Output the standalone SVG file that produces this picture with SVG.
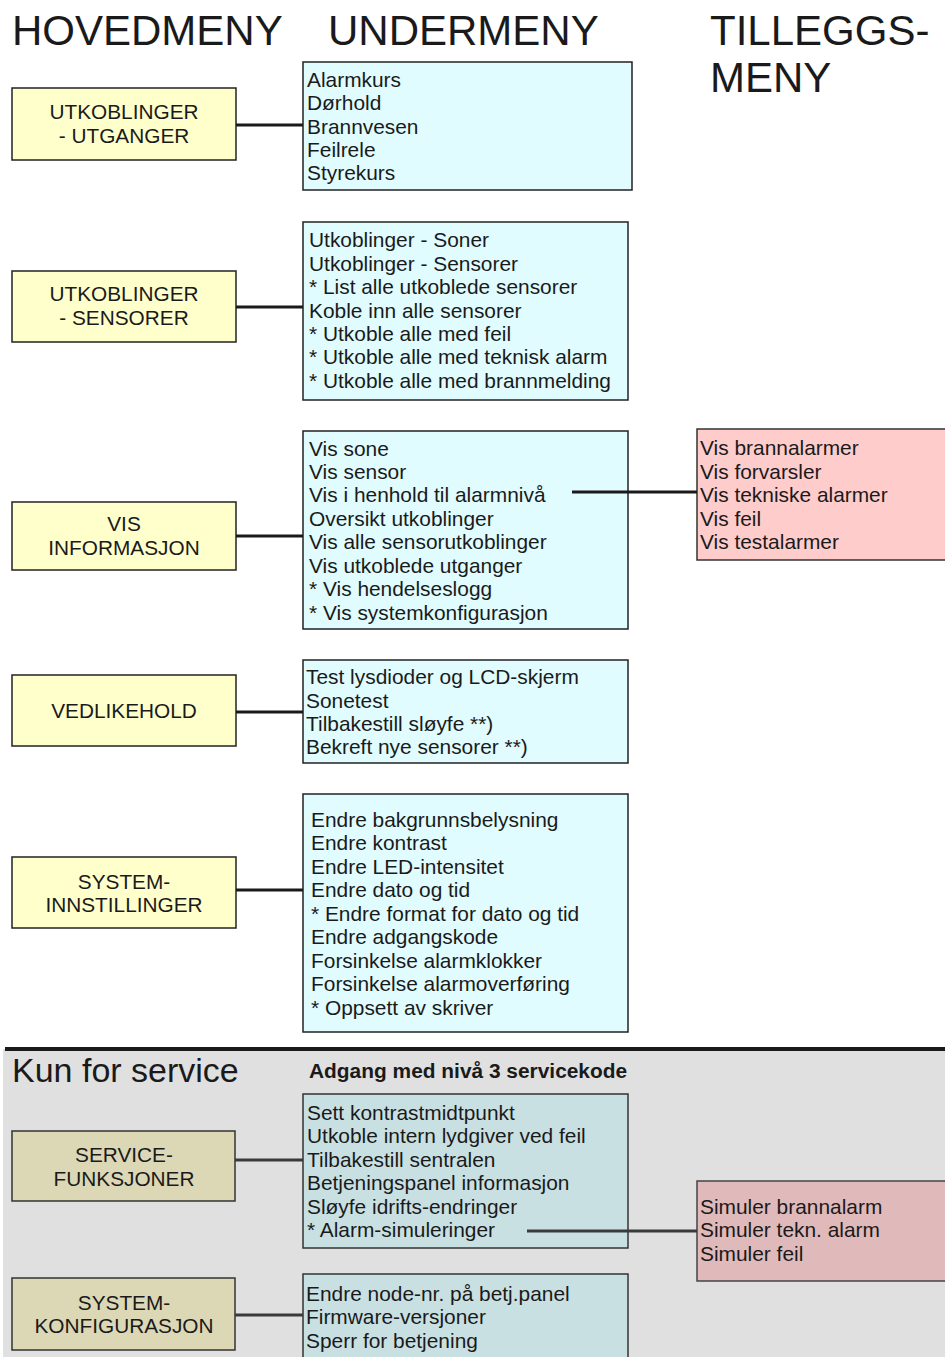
<svg xmlns="http://www.w3.org/2000/svg" width="945" height="1357" viewBox="0 0 945 1357">
<style>
text{font-family:"Liberation Sans",Arial,sans-serif;fill:#1a1a1a}
.h{font-size:42px}
.lbl{font-size:20.8px;text-anchor:middle}
.it{font-size:20.9px}
.main{fill:#ffffcc;stroke:#222;stroke-width:1.5}
.sub{fill:#e0fcff;stroke:#222;stroke-width:1.5}
.add{fill:#ffcccc;stroke:#333;stroke-width:1.5}
.smain{fill:#dcd8b6;stroke:#333;stroke-width:1.5}
.ssub{fill:#c9e0e3;stroke:#333;stroke-width:1.5}
.sadd{fill:#e0b9bb;stroke:#444;stroke-width:1.5}
.c{stroke:#1a1a1a;stroke-width:3;fill:none}
.sc{stroke:#3a3a3a;stroke-width:3;fill:none}
</style>
<rect x="0" y="0" width="945" height="1357" fill="#ffffff"/>
<rect x="3" y="1049" width="942" height="308" fill="#e0e0e0"/>
<line x1="5" y1="1049" x2="945" y2="1049" stroke="#1a1a1a" stroke-width="4"/>

<text class="h" x="12" y="45">HOVEDMENY</text>
<text class="h" x="328" y="45">UNDERMENY</text>
<text class="h" x="710" y="45">TILLEGGS-</text>
<text class="h" x="710" y="92">MENY</text>
<text x="12" y="1082" style="font-size:34px">Kun for service</text>
<text x="309" y="1078" style="font-size:20.9px;font-weight:bold">Adgang med nivå 3 servicekode</text>

<g id="utkoblinger-utganger">
<rect class="main" x="12" y="88" width="224" height="72"/>
<text class="lbl" x="124" y="119">UTKOBLINGER</text>
<text class="lbl" x="124" y="143">- UTGANGER</text>
</g>
<g id="sub-utganger">
<rect class="sub" x="303" y="62" width="329" height="128"/>
<text class="it" x="307" y="87">Alarmkurs</text>
<text class="it" x="307" y="110">Dørhold</text>
<text class="it" x="307" y="134">Brannvesen</text>
<text class="it" x="307" y="157">Feilrele</text>
<text class="it" x="307" y="180">Styrekurs</text>
</g>

<g id="utkoblinger-sensorer">
<rect class="main" x="12" y="271" width="224" height="71"/>
<text class="lbl" x="124" y="301">UTKOBLINGER</text>
<text class="lbl" x="124" y="325">- SENSORER</text>
</g>
<g id="sub-sensorer">
<rect class="sub" x="303" y="222" width="325" height="178"/>
<text class="it" x="309" y="247">Utkoblinger - Soner</text>
<text class="it" x="309" y="271">Utkoblinger - Sensorer</text>
<text class="it" x="309" y="294">* List alle utkoblede sensorer</text>
<text class="it" x="309" y="318">Koble inn alle sensorer</text>
<text class="it" x="309" y="341">* Utkoble alle med feil</text>
<text class="it" x="309" y="364">* Utkoble alle med teknisk alarm</text>
<text class="it" x="309" y="388">* Utkoble alle med brannmelding</text>
</g>

<g id="vis-informasjon">
<rect class="main" x="12" y="502" width="224" height="68"/>
<text class="lbl" x="124" y="531">VIS</text>
<text class="lbl" x="124" y="555">INFORMASJON</text>
</g>
<g id="sub-vis">
<rect class="sub" x="303" y="431" width="325" height="198"/>
<text class="it" x="309" y="456">Vis sone</text>
<text class="it" x="309" y="479">Vis sensor</text>
<text class="it" x="309" y="502">Vis i henhold til alarmnivå</text>
<text class="it" x="309" y="526">Oversikt utkoblinger</text>
<text class="it" x="309" y="549">Vis alle sensorutkoblinger</text>
<text class="it" x="309" y="573">Vis utkoblede utganger</text>
<text class="it" x="309" y="596">* Vis hendelseslogg</text>
<text class="it" x="309" y="620">* Vis systemkonfigurasjon</text>
</g>
<g id="add-alarmniva">
<rect class="add" x="697" y="429" width="250" height="131"/>
<text class="it" x="700" y="455">Vis brannalarmer</text>
<text class="it" x="700" y="479">Vis forvarsler</text>
<text class="it" x="700" y="502">Vis tekniske alarmer</text>
<text class="it" x="700" y="526">Vis feil</text>
<text class="it" x="700" y="549">Vis testalarmer</text>
</g>

<g id="vedlikehold">
<rect class="main" x="12" y="675" width="224" height="71"/>
<text class="lbl" x="124" y="718">VEDLIKEHOLD</text>
</g>
<g id="sub-vedlikehold">
<rect class="sub" x="303" y="660" width="325" height="103"/>
<text class="it" x="306" y="684">Test lysdioder og LCD-skjerm</text>
<text class="it" x="306" y="708">Sonetest</text>
<text class="it" x="306" y="731">Tilbakestill sløyfe **)</text>
<text class="it" x="306" y="754">Bekreft nye sensorer **)</text>
</g>

<g id="systeminnstillinger">
<rect class="main" x="12" y="857" width="224" height="71"/>
<text class="lbl" x="124" y="889">SYSTEM-</text>
<text class="lbl" x="124" y="912">INNSTILLINGER</text>
</g>
<g id="sub-systeminnstillinger">
<rect class="sub" x="303" y="794" width="325" height="238"/>
<text class="it" x="311" y="827">Endre bakgrunnsbelysning</text>
<text class="it" x="311" y="850">Endre kontrast</text>
<text class="it" x="311" y="874">Endre LED-intensitet</text>
<text class="it" x="311" y="897">Endre dato og tid</text>
<text class="it" x="311" y="921">* Endre format for dato og tid</text>
<text class="it" x="311" y="944">Endre adgangskode</text>
<text class="it" x="311" y="968">Forsinkelse alarmklokker</text>
<text class="it" x="311" y="991">Forsinkelse alarmoverføring</text>
<text class="it" x="311" y="1015">* Oppsett av skriver</text>
</g>

<g id="servicefunksjoner">
<rect class="smain" x="12" y="1131" width="223" height="70"/>
<text class="lbl" x="124" y="1162">SERVICE-</text>
<text class="lbl" x="124" y="1186">FUNKSJONER</text>
</g>
<g id="sub-service">
<rect class="ssub" x="303" y="1094" width="325" height="154"/>
<text class="it" x="307" y="1120">Sett kontrastmidtpunkt</text>
<text class="it" x="307" y="1143">Utkoble intern lydgiver ved feil</text>
<text class="it" x="307" y="1167">Tilbakestill sentralen</text>
<text class="it" x="307" y="1190">Betjeningspanel informasjon</text>
<text class="it" x="307" y="1214">Sløyfe idrifts-endringer</text>
<text class="it" x="307" y="1237">* Alarm-simuleringer</text>
</g>
<g id="add-simulering">
<rect class="sadd" x="697" y="1181" width="250" height="100"/>
<text class="it" x="700" y="1214">Simuler brannalarm</text>
<text class="it" x="700" y="1237">Simuler tekn. alarm</text>
<text class="it" x="700" y="1261">Simuler feil</text>
</g>

<g id="systemkonfigurasjon">
<rect class="smain" x="12" y="1278" width="223" height="72"/>
<text class="lbl" x="124" y="1310">SYSTEM-</text>
<text class="lbl" x="124" y="1333">KONFIGURASJON</text>
</g>
<g id="sub-systemkonfigurasjon">
<rect class="ssub" x="303" y="1274" width="325" height="90"/>
<text class="it" x="306" y="1301">Endre node-nr. på betj.panel</text>
<text class="it" x="306" y="1324">Firmware-versjoner</text>
<text class="it" x="306" y="1348">Sperr for betjening</text>
</g>

<g id="connectors">
<line class="c" x1="236" y1="125" x2="303" y2="125"/>
<line class="c" x1="236" y1="307" x2="303" y2="307"/>
<line class="c" x1="236" y1="536" x2="303" y2="536"/>
<line class="c" x1="572" y1="492" x2="697" y2="492"/>
<line class="c" x1="236" y1="712" x2="303" y2="712"/>
<line class="c" x1="236" y1="890" x2="303" y2="890"/>
<line class="sc" x1="235" y1="1160" x2="303" y2="1160"/>
<line class="sc" x1="527" y1="1231" x2="697" y2="1231"/>
<line class="sc" x1="235" y1="1315" x2="303" y2="1315"/>
</g>
</svg>
